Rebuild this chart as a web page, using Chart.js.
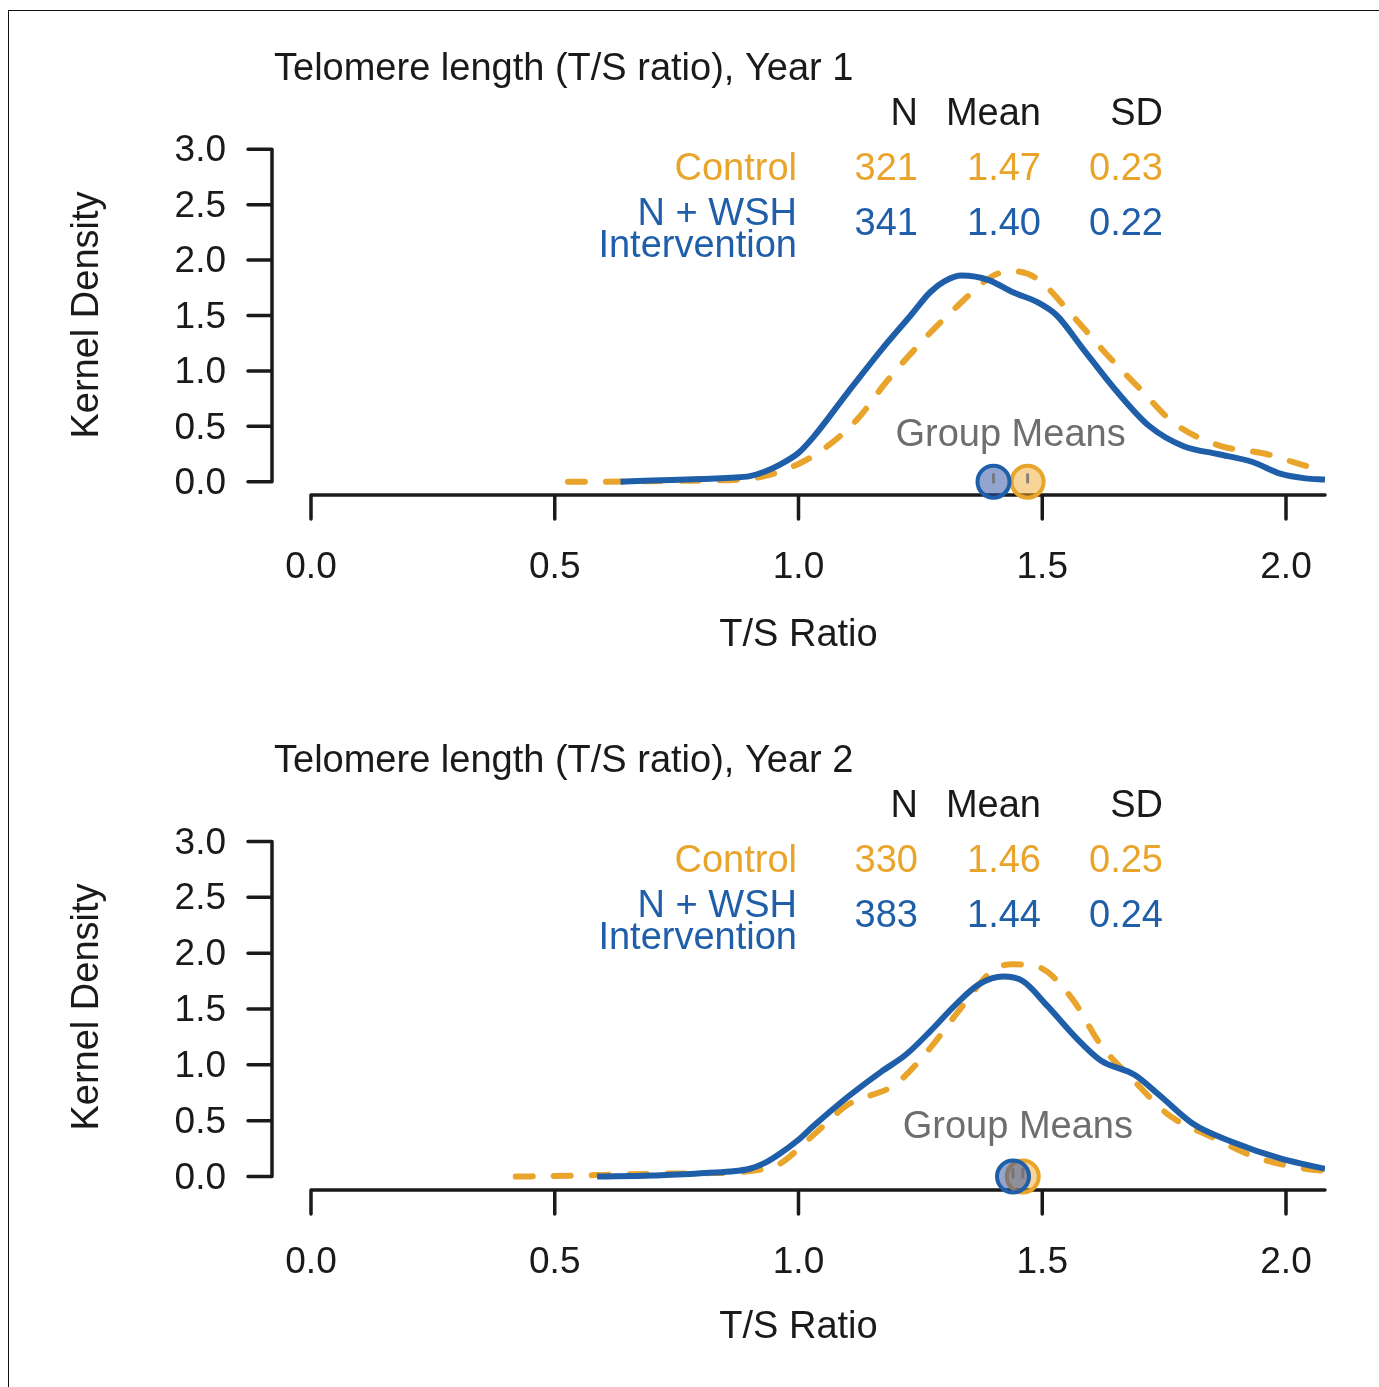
<!DOCTYPE html>
<html>
<head>
<meta charset="utf-8">
<script src="https://cdn.jsdelivr.net/npm/chart.js@4/dist/chart.umd.min.js"></script>
<style>
  body { margin: 0; background: #fff; }
  #wrap { position: relative; width: 1379px; height: 1387px; }
  #frame { position: absolute; left: 8px; top: 10px; right: 0; bottom: 0;
           border-top: 1.5px solid #111; border-left: 1.5px solid #111; }
  canvas { position: absolute; left: 0; }
</style>
</head>
<body>
<div id="wrap">
  <div id="frame"></div>
  <canvas id="year1" width="1379" height="692" style="top:0"></canvas>
  <canvas id="year2" width="1379" height="695" style="top:692px"></canvas>
</div>
<script>
// ============================
// DATA
// ============================
const xTicks = [0.0, 0.5, 1.0, 1.5, 2.0];
const yTicks = [0.0, 0.5, 1.0, 1.5, 2.0, 2.5, 3.0];
const groupNames = ["Control", "N + WSH\nIntervention"];

// Year 1
const yr1ControlX = [0.527,0.60,0.70,0.80,0.88,0.93,0.96,1.00,1.05,1.12,1.18,1.25,1.32,1.40,1.44,1.49,1.56,1.63,1.70,1.77,1.86,1.96,2.02,2.08];
const yr1ControlY = [0.00,0.00,0.005,0.01,0.02,0.05,0.09,0.16,0.29,0.56,0.90,1.25,1.56,1.86,1.90,1.83,1.51,1.16,0.84,0.53,0.33,0.25,0.17,0.09];
const yr1InterventionX = [0.635,0.70,0.80,0.86,0.90,0.93,0.96,1.00,1.03,1.10,1.17,1.23,1.27,1.30,1.335,1.39,1.44,1.49,1.53,1.58,1.65,1.72,1.79,1.86,1.93,1.99,2.04,2.08];
const yr1InterventionY = [0.00,0.01,0.025,0.035,0.05,0.09,0.15,0.26,0.40,0.80,1.19,1.50,1.71,1.81,1.86,1.82,1.71,1.62,1.50,1.22,0.83,0.50,0.32,0.25,0.18,0.07,0.03,0.02];
const yr1N = [321, 341];
const yr1Mean = [1.47, 1.40];
const yr1SD = [0.23, 0.22];

// Year 2
const yr2ControlX = [0.42,0.50,0.60,0.70,0.80,0.88,0.93,0.96,1.03,1.10,1.20,1.27,1.33,1.40,1.44,1.49,1.56,1.62,1.69,1.76,1.85,1.94,2.04,2.08];
const yr2ControlY = [0.00,0.005,0.015,0.025,0.03,0.04,0.07,0.11,0.37,0.64,0.83,1.15,1.49,1.85,1.90,1.88,1.60,1.18,0.85,0.55,0.35,0.17,0.07,0.05];
const yr2InterventionX = [0.587,0.70,0.80,0.86,0.90,0.93,0.96,1.00,1.03,1.10,1.17,1.22,1.27,1.325,1.37,1.42,1.46,1.51,1.57,1.62,1.69,1.74,1.81,1.89,1.99,2.08];
const yr2InterventionY = [0.00,0.01,0.03,0.045,0.07,0.12,0.20,0.33,0.45,0.71,0.94,1.09,1.30,1.55,1.72,1.79,1.75,1.53,1.24,1.04,0.91,0.73,0.47,0.31,0.16,0.07];
const yr2N = [330, 383];
const yr2Mean = [1.46, 1.44];
const yr2SD = [0.25, 0.24];

// ============================
// STYLE
// ============================
const ORANGE = "#E9A42B";
const BLUE = "#1F5EA8";
const FONT = "'Liberation Sans', Arial, Helvetica, sans-serif";

const toPts = (xs, ys) => xs.map((x, i) => ({ x: x, y: ys[i] }));

// axes + annotation text drawn with the chart's own scales
const axesPlugin = {
  id: "axes",
  beforeDatasetsDraw(chart) {
    const ctx = chart.ctx, xs = chart.scales.x, ys = chart.scales.y;
    const yAxisX = xs.getPixelForValue(-0.08);
    const xAxisY = ys.getPixelForValue(-0.12);
    ctx.save();
    ctx.strokeStyle = "#1a1a1a";
    ctx.lineWidth = 3.5;
    ctx.lineCap = "round";
    // y axis
    ctx.beginPath();
    ctx.moveTo(yAxisX, ys.getPixelForValue(yTicks[0]));
    ctx.lineTo(yAxisX, ys.getPixelForValue(yTicks[yTicks.length - 1]));
    yTicks.forEach(t => {
      const py = ys.getPixelForValue(t);
      ctx.moveTo(yAxisX, py);
      ctx.lineTo(yAxisX - 24, py);
    });
    ctx.stroke();
    // x axis
    ctx.beginPath();
    ctx.moveTo(xs.getPixelForValue(xTicks[0]), xAxisY);
    ctx.lineTo(xs.getPixelForValue(2.08), xAxisY);
    xTicks.forEach(t => {
      const px = xs.getPixelForValue(t);
      ctx.moveTo(px, xAxisY);
      ctx.lineTo(px, xAxisY + 24);
    });
    ctx.stroke();

    ctx.fillStyle = "#1a1a1a";
    ctx.font = "37px " + FONT;
    ctx.textBaseline = "middle";
    ctx.textAlign = "right";
    yTicks.forEach(t => ctx.fillText(t.toFixed(1), yAxisX - 46, ys.getPixelForValue(t) + 2));
    ctx.textAlign = "center";
    xTicks.forEach(t => ctx.fillText(t.toFixed(1), xs.getPixelForValue(t), xAxisY + 73));
    ctx.restore();
  },
  afterDraw(chart) {
    const o = chart.options.plugins.axes;
    const ctx = chart.ctx, xs = chart.scales.x, ys = chart.scales.y;
    ctx.save();
    ctx.textBaseline = "middle";
    ctx.font = "38px " + FONT;
    ctx.fillStyle = "#1a1a1a";
    ctx.textAlign = "left";
    ctx.fillText(o.title, 274, 70);
    ctx.textAlign = "center";
    ctx.fillText("T/S Ratio", xs.getPixelForValue(1.0), 636);
    ctx.save();
    ctx.translate(88, 315);
    ctx.rotate(-Math.PI / 2);
    ctx.fillText("Kernel Density", 0, 0);
    ctx.restore();

    // summary table
    const cols = [918, 1041, 1163];
    ctx.textAlign = "right";
    ["N", "Mean", "SD"].forEach((h, i) => ctx.fillText(h, cols[i], 115));
    ctx.fillStyle = ORANGE;
    ctx.fillText(groupNames[0], 797, 170);
    [o.n[0], o.mean[0].toFixed(2), o.sd[0].toFixed(2)].forEach((v, i) => ctx.fillText(v, cols[i], 170));
    ctx.fillStyle = BLUE;
    const lines = groupNames[1].split("\n");
    ctx.fillText(lines[0], 797, 215);
    ctx.fillText(lines[1], 797, 247);
    [o.n[1], o.mean[1].toFixed(2), o.sd[1].toFixed(2)].forEach((v, i) => ctx.fillText(v, cols[i], 225));

    // group means label
    ctx.fillStyle = "#6e6e6e";
    ctx.textAlign = "center";
    const mid = (o.mean[0] + o.mean[1]) / 2;
    ctx.fillText("Group Means", xs.getPixelForValue(mid), 436);
    ctx.restore();
  }
};

function makePanel(id, title, ctrlX, ctrlY, intX, intY, n, mean, sd) {
  new Chart(document.getElementById(id), {
    type: "line",
    data: {
      datasets: [
        {
          data: toPts(intX, intY),
          borderColor: BLUE,
          borderWidth: 6,
          pointRadius: 0,
          cubicInterpolationMode: "monotone",
          order: 3
        },
        {
          data: toPts(ctrlX, ctrlY),
          borderColor: ORANGE,
          borderWidth: 6,
          borderDash: [17, 21],
          borderCapStyle: "round",
          pointRadius: 0,
          cubicInterpolationMode: "monotone",
          order: 4
        },
        {
          type: "scatter",
          data: [{ x: mean[0], y: 0 }],
          pointRadius: 16,
          borderWidth: 4,
          borderColor: ORANGE,
          backgroundColor: "rgba(240,170,50,0.5)",
          clip: false,
          order: 2
        },
        {
          type: "scatter",
          data: [{ x: mean[1], y: 0 }],
          pointRadius: 16,
          borderWidth: 4,
          borderColor: BLUE,
          backgroundColor: "rgba(40,75,160,0.5)",
          clip: false,
          order: 1
        },
        {
          type: "scatter",
          data: mean.map(m => ({ x: m, y: 0.03 })),
          pointStyle: "line",
          rotation: 90,
          pointRadius: 5,
          borderWidth: 3,
          borderColor: "rgba(110,110,110,0.8)",
          clip: false,
          order: 0
        }
      ]
    },
    options: {
      responsive: false,
      animation: false,
      events: [],
      layout: { padding: { left: 272, right: 54, top: 136, bottom: 197 } },
      scales: {
        x: { type: "linear", min: -0.08, max: 2.08, display: false },
        y: { type: "linear", min: -0.12, max: 3.12, display: false }
      },
      plugins: {
        legend: { display: false },
        tooltip: { enabled: false },
        axes: { title: title, n: n, mean: mean, sd: sd }
      }
    },
    plugins: [axesPlugin]
  });
}

makePanel("year1", "Telomere length (T/S ratio), Year 1",
  yr1ControlX, yr1ControlY, yr1InterventionX, yr1InterventionY, yr1N, yr1Mean, yr1SD);
makePanel("year2", "Telomere length (T/S ratio), Year 2",
  yr2ControlX, yr2ControlY, yr2InterventionX, yr2InterventionY, yr2N, yr2Mean, yr2SD);
</script>
</body>
</html>
